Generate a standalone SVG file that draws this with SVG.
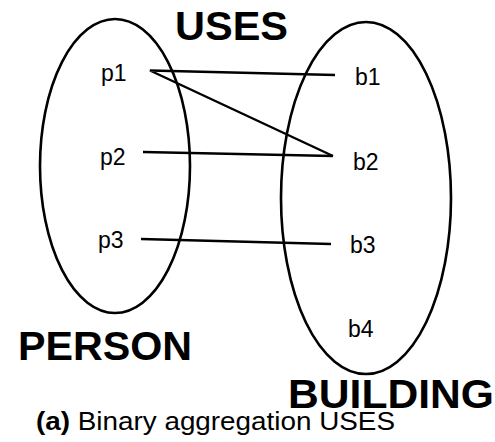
<svg xmlns="http://www.w3.org/2000/svg" width="495" height="442" viewBox="0 0 495 442">
<style>
.set{fill:none;stroke:#000;stroke-width:2.6}
.lnk{fill:none;stroke:#000;stroke-width:2.4;stroke-linejoin:miter}
.el{font-family:"Liberation Sans",Arial,sans-serif;font-size:23px;fill:#000}
.big{font-family:"Liberation Sans",Arial,sans-serif;font-size:40px;font-weight:bold;fill:#000}
.cap{font-family:"Liberation Sans",Arial,sans-serif;font-size:25px;fill:#000}
</style>
<rect width="495" height="442" fill="#fff"/>
<g id="person">
<ellipse class="set" cx="115" cy="166" rx="75" ry="147"/>
<text class="big" x="18" y="360" textLength="174" lengthAdjust="spacingAndGlyphs">PERSON</text>
</g>
<g id="building">
<ellipse class="set" cx="366" cy="198" rx="85" ry="176"/>
<text class="big" x="288" y="408" textLength="206" lengthAdjust="spacingAndGlyphs">BUILDING</text>
</g>
<g id="uses-label">
<text class="big" x="175" y="40" textLength="113" lengthAdjust="spacingAndGlyphs">USES</text>
</g>
<g id="p1"><text class="el" x="101" y="81">p1</text></g>
<g id="p2"><text class="el" x="100" y="165">p2</text></g>
<g id="p3"><text class="el" x="98" y="248">p3</text></g>
<g id="b1"><text class="el" x="355" y="85">b1</text></g>
<g id="b2"><text class="el" x="353" y="170">b2</text></g>
<g id="b3"><text class="el" x="350" y="253">b3</text></g>
<g id="b4"><text class="el" x="348" y="337">b4</text></g>
<g id="connectors">
<path class="lnk" d="M335,75 L150,70.5 L333,156"/>
<path class="lnk" d="M143,152 L333,156"/>
<path class="lnk" d="M141,239 L331,244"/>
</g>
<g id="caption">
<text class="cap" x="36" y="430" textLength="359" lengthAdjust="spacingAndGlyphs"><tspan font-weight="bold">(a)</tspan> Binary aggregation USES</text>
</g>
</svg>
